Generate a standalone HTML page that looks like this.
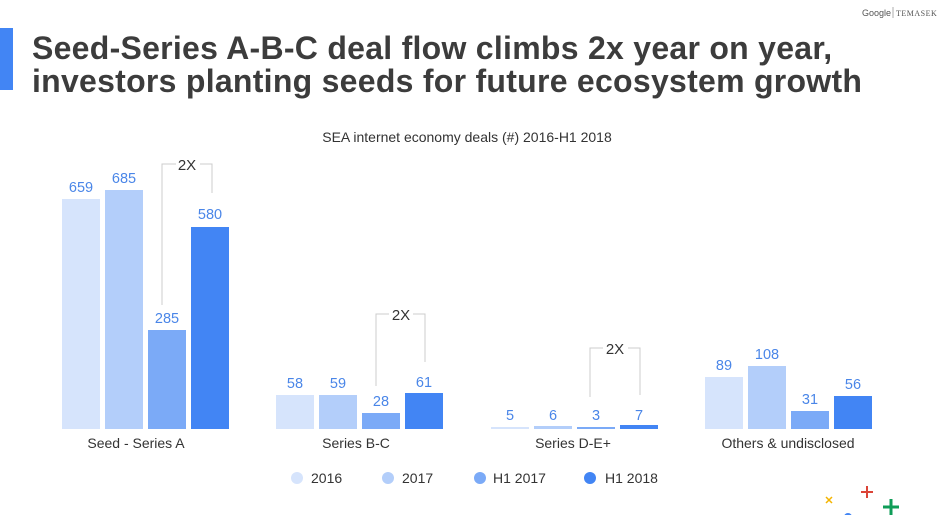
<!DOCTYPE html>
<html><head><meta charset="utf-8"><style>
html,body{margin:0;padding:0;background:#fff}
body{width:948px;height:515px;overflow:hidden;position:relative;font-family:"Liberation Sans",sans-serif}
</style></head><body>
<svg width="948" height="515" xmlns="http://www.w3.org/2000/svg" font-family="Liberation Sans, sans-serif">
<text x="862" y="16" font-size="9" fill="#555">Google</text>
<line x1="893" y1="7" x2="893" y2="18" stroke="#999" stroke-width="0.8"/>
<text x="896" y="16" font-size="8" fill="#555" font-family="Liberation Serif, serif" letter-spacing="0.5">TEMASEK</text>
<rect x="0" y="28" width="13" height="62" fill="#4285f4"/>
<text x="32" y="59" font-size="32" font-weight="bold" fill="#3c3c3c" letter-spacing="0.27">Seed-Series A-B-C deal flow climbs 2x year on year,</text>
<text x="32" y="92" font-size="32" font-weight="bold" fill="#3c3c3c" letter-spacing="0.27">investors planting seeds for future ecosystem growth</text>
<text x="467" y="142" font-size="14" fill="#333" text-anchor="middle">SEA internet economy deals (#) 2016-H1 2018</text>
<g fill="none" stroke="#ccc" stroke-width="1">
<path d="M162,305V164H176M200,164H212V193"/>
<path d="M376,386V314H389M413,314H425V362"/>
<path d="M590,397V348H603M628,348H640V395"/>
</g>
<g font-size="15" fill="#333" text-anchor="middle">
<text x="187" y="170">2X</text><text x="401" y="320">2X</text><text x="615" y="354">2X</text>
</g>
<g>
<rect x="62" y="199" width="38" height="230" fill="#d6e4fc"/>
<rect x="105" y="190" width="38" height="239" fill="#b3cefa"/>
<rect x="148" y="330" width="38" height="99" fill="#7baaf7"/>
<rect x="191" y="227" width="38" height="202" fill="#4285f4"/>
<rect x="276" y="395" width="38" height="34" fill="#d6e4fc"/>
<rect x="319" y="395" width="38" height="34" fill="#b3cefa"/>
<rect x="362" y="413" width="38" height="16" fill="#7baaf7"/>
<rect x="405" y="393" width="38" height="36" fill="#4285f4"/>
<rect x="491" y="427" width="38" height="2" fill="#d6e4fc"/>
<rect x="534" y="426" width="38" height="3" fill="#b3cefa"/>
<rect x="577" y="427" width="38" height="2" fill="#7baaf7"/>
<rect x="620" y="425" width="38" height="4" fill="#4285f4"/>
<rect x="705" y="377" width="38" height="52" fill="#d6e4fc"/>
<rect x="748" y="366" width="38" height="63" fill="#b3cefa"/>
<rect x="791" y="411" width="38" height="18" fill="#7baaf7"/>
<rect x="834" y="396" width="38" height="33" fill="#4285f4"/>
</g>
<g font-size="14.5" fill="#4a86e8" text-anchor="middle">
<text x="81" y="192">659</text><text x="124" y="183">685</text><text x="167" y="323">285</text><text x="210" y="219">580</text>
<text x="295" y="388">58</text><text x="338" y="388">59</text><text x="381" y="406">28</text><text x="424" y="387">61</text>
<text x="510" y="420">5</text><text x="553" y="420">6</text><text x="596" y="420">3</text><text x="639" y="420">7</text>
<text x="724" y="370">89</text><text x="767" y="359">108</text><text x="810" y="404">31</text><text x="853" y="389">56</text>
</g>
<g font-size="14" fill="#333" text-anchor="middle">
<text x="136" y="448">Seed - Series A</text>
<text x="356" y="448">Series B-C</text>
<text x="573" y="448">Series D-E+</text>
<text x="788" y="448">Others &amp; undisclosed</text>
</g>
<g font-size="14" fill="#333">
<circle cx="297" cy="478" r="6" fill="#d6e4fc"/><text x="311" y="483">2016</text>
<circle cx="388" cy="478" r="6" fill="#b3cefa"/><text x="402" y="483">2017</text>
<circle cx="480" cy="478" r="6" fill="#7baaf7"/><text x="493" y="483">H1 2017</text>
<circle cx="590" cy="478" r="6" fill="#4285f4"/><text x="605" y="483">H1 2018</text>
</g>
<path d="M826,497l6,6M832,497l-6,6" stroke="#f4b400" stroke-width="1.5"/>
<path d="M867,486v12M861,492h12" stroke="#db4437" stroke-width="2"/>
<path d="M891,499v16M883,507h16" stroke="#0f9d58" stroke-width="3"/>
<circle cx="848" cy="517" r="4" fill="#4285f4"/>
</svg>
</body></html>
